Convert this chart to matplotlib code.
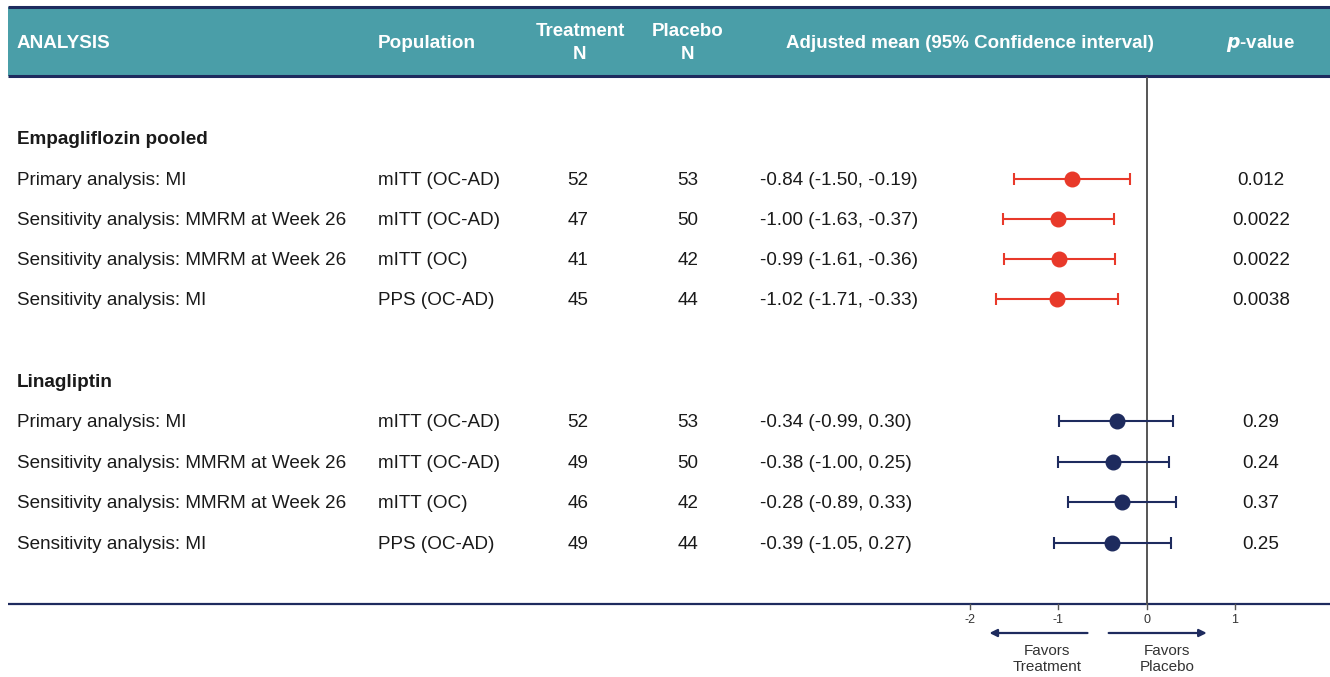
import numpy as np
import matplotlib.pyplot as plt
from matplotlib.patches import Rectangle

plt.rcParams['font.family'] = ['Liberation Sans', 'DejaVu Sans']

# Table content
group_titles = ['Empagliflozin pooled', 'Linagliptin']
analyses = ['Primary analysis: MI',
            'Sensitivity analysis: MMRM at Week 26',
            'Sensitivity analysis: MMRM at Week 26',
            'Sensitivity analysis: MI']
populations = ['mITT (OC-AD)', 'mITT (OC-AD)', 'mITT (OC)', 'PPS (OC-AD)']

empa_treat_n = [52, 47, 41, 45]
empa_placebo_n = [53, 50, 42, 44]
empa_mean = [-0.84, -1.00, -0.99, -1.02]
empa_lo = [-1.50, -1.63, -1.61, -1.71]
empa_hi = [-0.19, -0.37, -0.36, -0.33]
empa_p = ['0.012', '0.0022', '0.0022', '0.0038']

lina_treat_n = [52, 49, 46, 49]
lina_placebo_n = [53, 50, 42, 44]
lina_mean = [-0.34, -0.38, -0.28, -0.39]
lina_lo = [-0.99, -1.00, -0.89, -1.05]
lina_hi = [0.30, 0.25, 0.33, 0.27]
lina_p = ['0.29', '0.24', '0.37', '0.25']

x_ticks = [-2, -1, 0, 1]

W, H = 1330, 677
BAND = '#4a9ea8'
NAVY = '#1e2b5e'
RED = '#e8392a'
TXT = '#1a1a1a'

fig = plt.figure(figsize=(W / 100, H / 100), dpi=100)
bg = fig.add_axes([0, 0, 1, 1])
bg.set_xlim(0, W)
bg.set_ylim(H, 0)
bg.axis('off')

# header band
bg.add_patch(Rectangle((8, 7), W - 8, 69, facecolor=BAND, edgecolor='none'))
bg.plot([8, W], [7, 7], color=NAVY, lw=2.2, solid_capstyle='butt')
bg.plot([8, W], [76, 76], color=NAVY, lw=2.2, solid_capstyle='butt')

hdr = dict(color='white', fontweight='bold', fontsize=13.6, va='center')
narrow = dict(family=['Liberation Sans Narrow', 'Liberation Sans'], fontsize=13.5)
bg.text(17, 43, 'ANALYSIS', ha='left', **hdr)
bg.text(378, 43, 'Population', ha='left', **hdr)
bg.text(580, 43, 'Treatment\nN', ha='center', linespacing=1.45,
        **{**hdr, **narrow})
bg.text(688, 43, 'Placebo\nN', ha='center', linespacing=1.45,
        **{**hdr, **narrow})
bg.text(970, 43, 'Adjusted mean (95% Confidence interval)', ha='center',
        **{**hdr, **narrow})
bg.text(1261, 43, r'$\bfit{p}$-value', ha='center',
        **{**hdr, **narrow})

# bottom rule
bg.plot([8, W], [604, 604], color=NAVY, lw=1.6, solid_capstyle='butt')

title_y = [138, 381]
row_y = [[179, 219, 259, 299], [421, 462, 502, 543]]
groups = [
    (empa_treat_n, empa_placebo_n, empa_mean, empa_lo, empa_hi, empa_p, RED),
    (lina_treat_n, lina_placebo_n, lina_mean, lina_lo, lina_hi, lina_p, NAVY),
]

body = dict(color=TXT, fontsize=13.6, va='center')
dy = 1.5

# forest panel, x mapped so that -2 -> 970 px and 1 -> 1235 px
px_per_unit = (1235 - 970) / 3.0
f_left, f_right = 940, 1330
xmin = -2 + (f_left - 970) / px_per_unit
xmax = -2 + (f_right - 970) / px_per_unit
fax = fig.add_axes([f_left / W, 0, (f_right - f_left) / W, 1])
fax.set_xlim(xmin, xmax)
fax.set_ylim(H, 0)
fax.axis('off')
fax.plot([0, 0], [78, 604], color='#555555', lw=1.4)

for g, (tn, pn, m, lo, hi, pv, col) in enumerate(groups):
    bg.text(17, title_y[g] + dy, group_titles[g], ha='left',
            fontweight='bold', **body)
    for i, y in enumerate(row_y[g]):
        ty = y + dy
        bg.text(17, ty, analyses[i], ha='left', **body)
        bg.text(378, ty, populations[i], ha='left', **body)
        bg.text(578, ty, str(tn[i]), ha='center', **body)
        bg.text(688, ty, str(pn[i]), ha='center', **body)
        bg.text(760, ty, '%.2f (%.2f, %.2f)' % (m[i], lo[i], hi[i]),
                ha='left', **body)
        bg.text(1261, ty, pv[i], ha='center', **body)
        fax.errorbar(m[i], y, xerr=[[m[i] - lo[i]], [hi[i] - m[i]]],
                     fmt='o', color=col, ms=10.5, elinewidth=1.5,
                     capsize=4.5, capthick=1.5, zorder=3)

# axis ticks below the rule
for t in x_ticks:
    fax.plot([t, t], [604, 609], color='#555555', lw=1.0)
    fax.text(t, 620, str(t), ha='center', va='center', fontsize=9,
             color='#333333')

# direction arrows
fax.annotate('', xy=(-1.78, 633), xytext=(-0.67, 633),
             arrowprops=dict(arrowstyle='-|>', color=NAVY, lw=1.6,
                             mutation_scale=11, shrinkA=0, shrinkB=0))
fax.annotate('', xy=(0.68, 633), xytext=(-0.43, 633),
             arrowprops=dict(arrowstyle='-|>', color=NAVY, lw=1.6,
                             mutation_scale=11, shrinkA=0, shrinkB=0))
fax.text(-1.13, 659, 'Favors\nTreatment', ha='center', va='center',
         fontsize=11, color='#333333', linespacing=1.1)
fax.text(0.23, 659, 'Favors\nPlacebo', ha='center', va='center',
         fontsize=11, color='#333333', linespacing=1.1)

plt.savefig('out.png', dpi=100)
